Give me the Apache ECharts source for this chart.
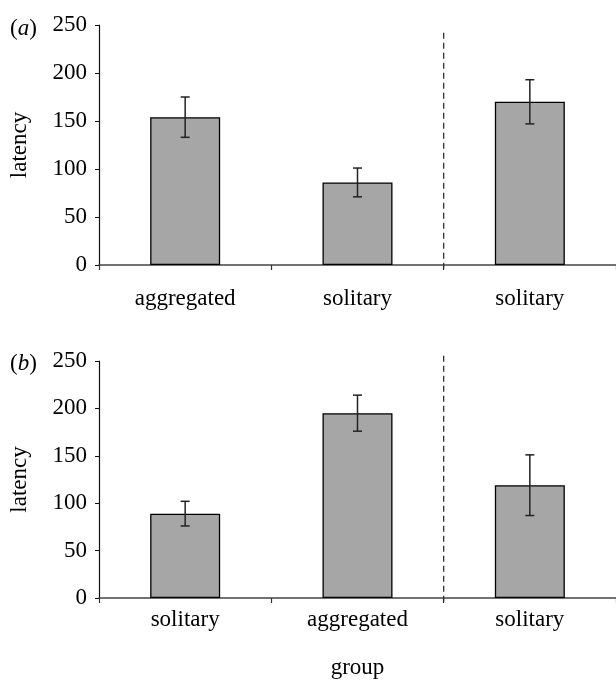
<!DOCTYPE html>
<html>
<head>
<meta charset="utf-8">
<script src="https://cdn.jsdelivr.net/npm/echarts@6/dist/echarts.min.js"></script>
<style>
  html, body { margin: 0; padding: 0; background: #fff; }
  #chart { width: 616px; height: 680px; }
</style>
</head>
<body>
<div id="chart"></div>
<script>
// panel (a)
var categoriesA = ['aggregated', 'solitary', 'solitary'];
var meansA = [154, 86, 170];
var errorsA = [21, 15, 23];
// panel (b)
var categoriesB = ['solitary', 'aggregated', 'solitary'];
var meansB = [89, 195, 119];
var errorsB = [13, 19, 32];

var yTicks = [0, 50, 100, 150, 200, 250];
// dashed divider between 2nd and 3rd group (x in category units, y in latency)
var dividerA = [[2, -4], [2, 242]];
var dividerB = [[2, -4], [2, 256]];

var font = 'Liberation Serif';
var fs = 23;
var ink = '#000';

function errData(means, errs) {
  return means.map(function (m, i) { return [i, m - errs[i], m + errs[i]]; });
}

function renderErr(params, api) {
  var lo = api.coord([api.value(0), api.value(1)]);
  var hi = api.coord([api.value(0), api.value(2)]);
  var cap = 4.5;
  var st = { stroke: '#222', lineWidth: 1.5 };
  return {
    type: 'group',
    children: [
      { type: 'line', shape: { x1: lo[0], y1: lo[1], x2: hi[0], y2: hi[1] }, style: st },
      { type: 'line', shape: { x1: lo[0] - cap, y1: lo[1], x2: lo[0] + cap, y2: lo[1] }, style: st },
      { type: 'line', shape: { x1: hi[0] - cap, y1: hi[1], x2: hi[0] + cap, y2: hi[1] }, style: st }
    ]
  };
}

function catAxis(idx, cats, margin, name) {
  return {
    type: 'category', gridIndex: idx, data: cats,
    name: name, nameLocation: 'middle', nameGap: 58,
    nameTextStyle: { color: ink, fontFamily: font, fontSize: fs },
    axisLine: { lineStyle: { color: '#444', width: 1.5 } },
    axisTick: { show: true, length: 5, lineStyle: { color: '#333', width: 1.2 } },
    axisLabel: { color: ink, fontFamily: font, fontSize: fs, margin: margin }
  };
}

function valAxis(idx) {
  return {
    type: 'value', gridIndex: idx, min: 0, max: 250, interval: 50,
    name: 'latency', nameLocation: 'middle', nameGap: 68, nameRotate: 90,
    nameTextStyle: { color: ink, fontFamily: font, fontSize: fs },
    axisLine: { show: true, lineStyle: { color: '#111', width: 1.2 } },
    axisTick: { show: true, length: 4, lineStyle: { color: '#111' } },
    splitLine: { show: false },
    axisLabel: {
      color: ink, fontFamily: font, fontSize: fs, margin: 12,
      formatter: function (v) { return yTicks.indexOf(v) >= 0 ? String(v) : ''; }
    }
  };
}

var chart = echarts.init(document.getElementById('chart'));
chart.setOption({
  animation: false,
  backgroundColor: '#fff',
  title: [
    { text: '({i|a})', left: 5, top: 12,
      textStyle: { fontFamily: font, fontSize: fs, fontWeight: 'normal', color: ink,
        rich: { i: { fontFamily: font, fontSize: fs, fontStyle: 'italic', color: ink } } } },
    { text: '({i|b})', left: 5, top: 347,
      textStyle: { fontFamily: font, fontSize: fs, fontWeight: 'normal', color: ink,
        rich: { i: { fontFamily: font, fontSize: fs, fontStyle: 'italic', color: ink } } } }
  ],
  grid: [
    { left: 98, right: -1, top: 25, height: 240 },
    { left: 98, right: -1, top: 361, height: 238 }
  ],
  xAxis: [
    catAxis(0, categoriesA, 22, ''),
    catAxis(1, categoriesB, 10, 'group'),
    { type: 'value', gridIndex: 0, min: 0, max: 3, show: false },
    { type: 'value', gridIndex: 1, min: 0, max: 3, show: false }
  ],
  yAxis: [valAxis(0), valAxis(1)],
  series: [
    { type: 'bar', xAxisIndex: 0, yAxisIndex: 0, data: meansA, barWidth: 70,
      itemStyle: { color: '#a6a6a6', borderColor: '#000', borderWidth: 1.3 } },
    { type: 'custom', xAxisIndex: 0, yAxisIndex: 0, data: errData(meansA, errorsA),
      renderItem: renderErr, z: 5 },
    { type: 'bar', xAxisIndex: 1, yAxisIndex: 1, data: meansB, barWidth: 70,
      itemStyle: { color: '#a6a6a6', borderColor: '#000', borderWidth: 1.3 } },
    { type: 'custom', xAxisIndex: 1, yAxisIndex: 1, data: errData(meansB, errorsB),
      renderItem: renderErr, z: 5 },
    { type: 'line', xAxisIndex: 2, yAxisIndex: 0, data: dividerA, symbol: 'none', clip: false,
      lineStyle: { color: '#333', width: 1.3, type: [6, 4] } },
    { type: 'line', xAxisIndex: 3, yAxisIndex: 1, data: dividerB, symbol: 'none', clip: false,
      lineStyle: { color: '#333', width: 1.3, type: [6, 4] } }
  ]
});
</script>
</body>
</html>
